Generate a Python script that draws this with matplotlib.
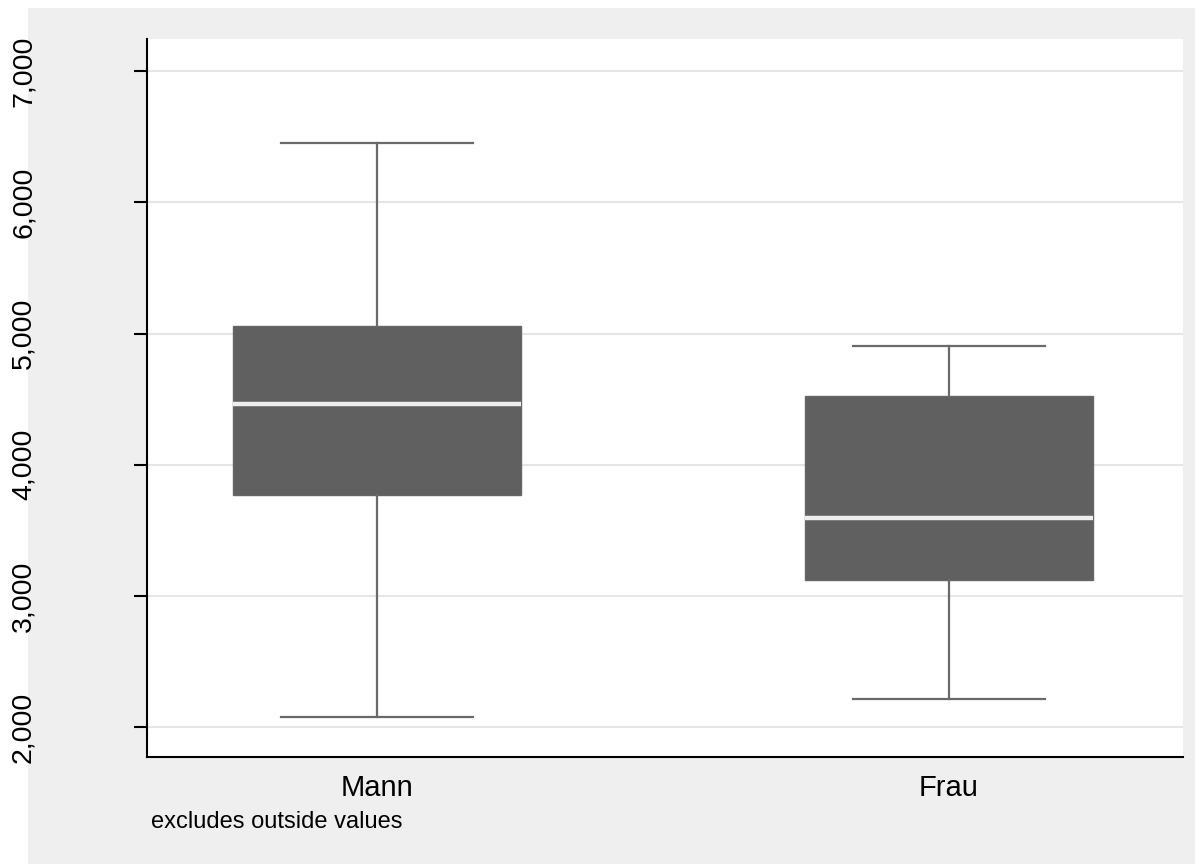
import matplotlib
matplotlib.use("Agg")
import matplotlib.pyplot as plt
from matplotlib.patches import Rectangle
from matplotlib.ticker import FuncFormatter

categories = ["Mann", "Frau"]
whisker_low = [2076, 2218]
q1 = [3770, 3125]
median = [4463, 3597]
q3 = [5058, 4526]
whisker_high = [6454, 4903]
yticks = [2000, 3000, 4000, 5000, 6000, 7000]
note = "excludes outside values"

plt.rcParams['font.family'] = ['Liberation Sans', 'DejaVu Sans']

fig = plt.figure(figsize=(11.95, 8.64), dpi=100)
fig.patch.set_facecolor('white')
fig.patches.append(Rectangle((28/1195, 0), 1 - 28/1195, 1 - 8/864,
                             transform=fig.transFigure, facecolor='#efefef',
                             edgecolor='none', zorder=-10))

ax = fig.add_axes([147/1195, 107/864, (1183-147)/1195, (757-39)/864])
ax.set_facecolor('white')

stats = []
for i, c in enumerate(categories):
    stats.append(dict(label=c, whislo=whisker_low[i], q1=q1[i], med=median[i],
                      q3=q3[i], whishi=whisker_high[i], fliers=[]))

positions = list(range(1, len(categories) + 1))
ax.bxp(stats, positions=positions, widths=0.505, patch_artist=True,
       showfliers=False, capwidths=0.334,
       boxprops=dict(facecolor='#606060', edgecolor='#666666', linewidth=1.0),
       medianprops=dict(color='#eeeeee', linewidth=3.2),
       whiskerprops=dict(color='#6a6a6a', linewidth=1.6),
       capprops=dict(color='#6a6a6a', linewidth=1.6))

ax.set_xlim(0.598, 2.409)
ax.set_ylim(1774, 7244)
ax.set_yticks(yticks)
ax.yaxis.set_major_formatter(FuncFormatter(lambda v, p: f"{int(v):,}"))
ax.grid(axis='y', color='#e6e6e6', linewidth=1.5)
ax.set_axisbelow(True)

for s in ['top', 'right']:
    ax.spines[s].set_visible(False)
for s in ['left', 'bottom']:
    ax.spines[s].set_color('black')
    ax.spines[s].set_linewidth(1.5)

ax.tick_params(axis='y', length=9.5, width=1.5, direction='out',
               labelsize=20.5, pad=70)
for lbl in ax.get_yticklabels():
    lbl.set_rotation(90)
    lbl.set_va('center')
ax.tick_params(axis='x', length=0, labelsize=21, pad=12)

fig.text(151/1195, 1 - 822/864, note, fontsize=17, ha='left', va='center')

fig.savefig('out.png', dpi=100, facecolor=fig.get_facecolor())
